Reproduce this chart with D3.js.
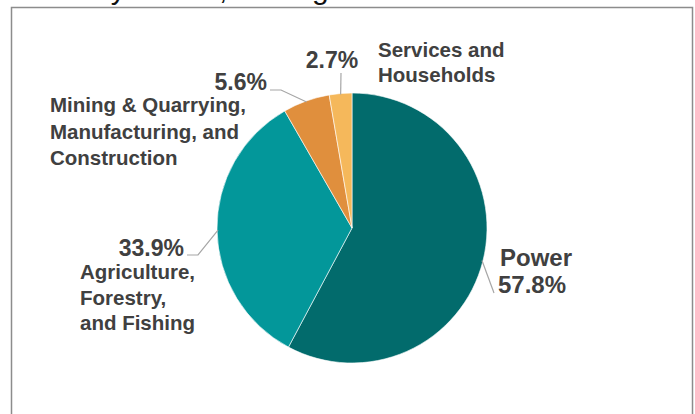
<!DOCTYPE html>
<html>
<head>
<meta charset="utf-8">
<script src="https://cdn.jsdelivr.net/npm/d3@7"></script>
<style>
  html, body { margin: 0; padding: 0; background: #fff; }
  svg { display: block; font-family: Arial, "Liberation Sans", sans-serif; }
</style>
</head>
<body>
<svg id="chart" width="695" height="414"></svg>
<script>
// Sector shares, clockwise from 12 o'clock
const sectors = ["Power", "Agriculture, Forestry, and Fishing", "Mining & Quarrying, Manufacturing, and Construction", "Services and Households"];
const shares = [57.8, 33.9, 5.6, 2.7];
const sliceColors = ["#026b6c", "#03979a", "#e08f3d", "#f5b85b"];
const titleText = "by Sector, Average from 2010 to 2018";

const svg = d3.select("#chart");
const cx = 352, cy = 228, R = 135;
const ink = "#404040", leaderInk = "#a6a6a6";

// title line (sits mostly above the top edge)
svg.append("text")
  .attr("x", 94).attr("y", -1.5)
  .attr("font-size", 30)
  .attr("fill", "#111")
  .text(titleText);

// chart frame
svg.append("rect")
  .attr("x", 11.5).attr("y", 7.5)
  .attr("width", 681).attr("height", 430)
  .attr("fill", "none")
  .attr("stroke", "#8c8c8c")
  .attr("stroke-width", 1.5);

const data = sectors.map((s, i) => ({ name: s, value: shares[i], color: sliceColors[i] }));
const pie = d3.pie().value(d => d.value).sort(null);
const arcs = pie(data);
const arc = d3.arc().innerRadius(0).outerRadius(R);

const g = svg.append("g").attr("transform", `translate(${cx},${cy})`);
g.selectAll("path.slice")
  .data(arcs)
  .join("path")
  .attr("class", "slice")
  .attr("d", arc)
  .attr("fill", d => d.data.color)
  .attr("stroke", "#fff")
  .attr("stroke-width", 0.6);

// point on the rim at the middle of a slice
function rimPoint(a, r) {
  const m = (a.startAngle + a.endAngle) / 2;
  return [cx + r * Math.sin(m), cy - r * Math.cos(m)];
}

const fmt = v => v.toFixed(1) + "%";

// label layout: value text, category lines, leader path (elbow then rim)
const labelLayout = [
  { value: { x: 498, y: 293, anchor: "start" },
    name: { x: 500, y: 266, lines: ["Power"], size: 24 },
    leader: [[494, 293]] },
  { value: { x: 184, y: 256, anchor: "end" },
    name: { x: 80, y: 279, lines: ["Agriculture,", "Forestry,", "and Fishing"], size: 20.5, lh: 25.5 },
    leader: [[187, 255], [198, 255]] },
  { value: { x: 267, y: 90, anchor: "end" },
    name: { x: 50, y: 112, lines: ["Mining & Quarrying,", "Manufacturing, and", "Construction"], size: 20.5, lh: 26.5 },
    leader: [[270, 90], [281, 90]] },
  { value: { x: 332, y: 68, anchor: "middle" },
    name: { x: 378, y: 57, lines: ["Services and", "Households"], size: 20.5, lh: 25 },
    leader: [[341, 73]] }
];

arcs.forEach((a, i) => {
  const L = labelLayout[i];
  const pts = L.leader.concat([rimPoint(a, R - 1)]);
  svg.append("path")
    .attr("d", d3.line()(pts))
    .attr("fill", "none")
    .attr("stroke", leaderInk)
    .attr("stroke-width", 1.2);

  svg.append("text")
    .attr("x", L.value.x).attr("y", L.value.y)
    .attr("text-anchor", L.value.anchor)
    .attr("font-size", i === 0 ? 24 : 23)
    .attr("font-weight", "bold")
    .attr("fill", ink)
    .text(fmt(a.data.value));

  const t = svg.append("text")
    .attr("font-size", L.name.size)
    .attr("font-weight", "bold")
    .attr("fill", ink);
  L.name.lines.forEach((ln, k) => {
    t.append("tspan")
      .attr("x", L.name.x)
      .attr("y", L.name.y + k * (L.name.lh || 0))
      .text(ln);
  });
});
</script>
</body>
</html>
